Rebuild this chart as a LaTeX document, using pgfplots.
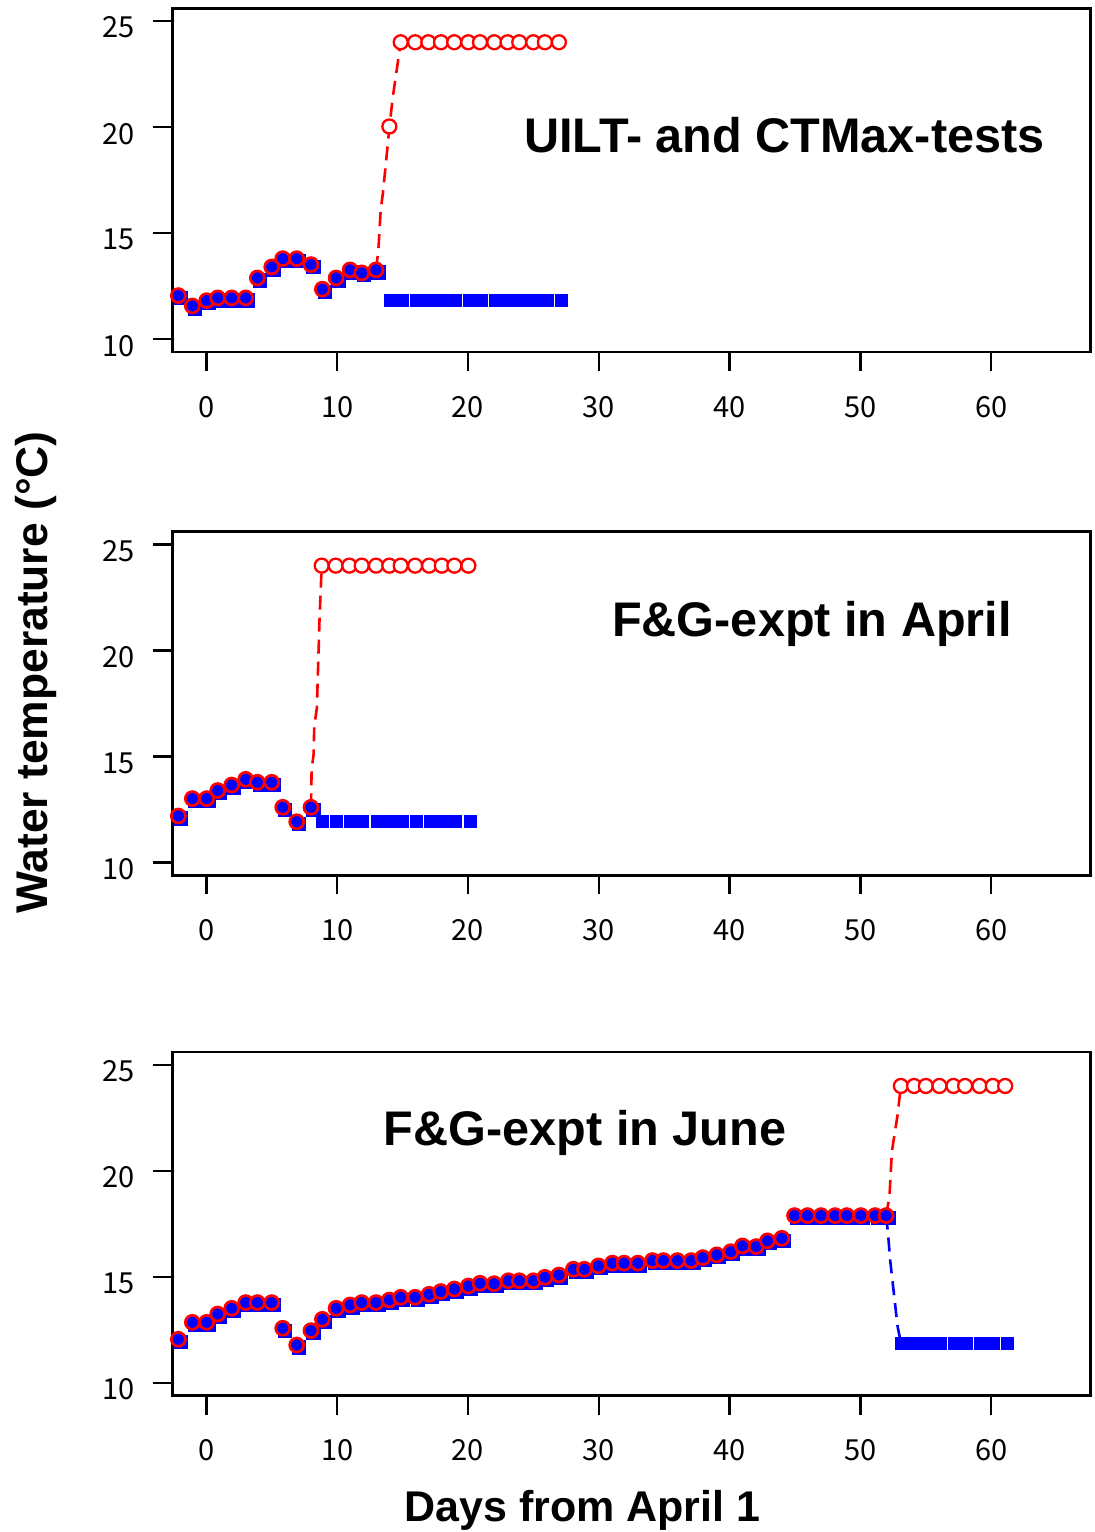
\documentclass[border=0pt]{standalone}
\usepackage{fontspec}
\setmainfont{Liberation Sans}
\newfontfamily\tickfont{Noto Sans CJK JP}
\usepackage{pgfplots}
\pgfplotsset{compat=1.18}
\definecolor{pblue}{RGB}{0,0,255}
\definecolor{pred}{RGB}{255,0,0}
\pgfplotsset{
 panel/.style={
  scale only axis, width=459.2pt, height=171.85pt,
  xmin=-2.6, xmax=67.6, ymin=9.4, ymax=25.6,
  xtick={0,10,...,60}, ytick={10,15,20,25},
  axis line style={line width=1.3pt},
  tick style={black, line width=1.2pt},
  tick align=outside, major tick length=9.5pt,
  xtick pos=bottom, ytick pos=left,
  /pgf/number format/assume math mode=true,
  ticklabel style={font=\tickfont\fontsize{14.5}{14.5}\selectfont},
  xticklabel style={yshift=-9pt},
  yticklabel style={xshift=-6pt, yshift=-3.3pt},
  clip=true,
 },
 pre/.style={only marks, mark=*, mark size=3.5pt, mark options={draw=pred, fill=pblue, line width=1.35pt}},
 preblue/.style={only marks, mark=square*, mark size=3.3pt, mark options={draw=pblue, fill=pblue, xshift=1.2pt, yshift=-1.2pt}},
 flatblue/.style={only marks, mark=square*, mark size=3.0pt, mark options={draw=pblue, fill=pblue}},
 hot/.style={only marks, mark=*, mark size=3.5pt, mark options={draw=pred, fill=white, line width=1.15pt}},
 dashr/.style={pred, line width=1.3pt, dash pattern=on 7pt off 4pt, no marks},
 dashb/.style={pblue, line width=1.3pt, dash pattern=on 7pt off 4pt, no marks},
}
\begin{document}
\begin{tikzpicture}
\useasboundingbox (0,0) rectangle (547pt,-766pt);
% ---------------- Panel 1 ----------------
\begin{axis}[panel, at={(86.15pt,-4.15pt)}, anchor=north west]
\addplot[dashr] coordinates {(12.97,13.27) (13.15,14.2) (13.33,16.1) (13.5,16.9) (14.0,20.0) (14.25,21.4) (14.86,24.0)};
\addplot[preblue] coordinates {(-2.14,12.06) (-1.07,11.57) (0.03,11.82) (0.87,11.95) (1.94,11.95) (3.01,11.95) (3.90,12.89) (5.0,13.41) (5.84,13.80) (6.91,13.80) (8.0,13.52) (8.87,12.36) (9.92,12.89) (10.99,13.27) (11.88,13.13) (12.97,13.27)};
\addplot[pre] coordinates {(-2.14,12.06) (-1.07,11.57) (0.03,11.82) (0.87,11.95) (1.94,11.95) (3.01,11.95) (3.90,12.89) (5.0,13.41) (5.84,13.80) (6.91,13.80) (8.0,13.52) (8.87,12.36) (9.92,12.89) (10.99,13.27) (11.88,13.13) (12.97,13.27)};
\addplot[flatblue] coordinates {(14.05,11.85) (15.0,11.85) (16.05,11.85) (17.05,11.85) (18.05,11.85) (19.05,11.85) (20.1,11.85) (21.05,11.85) (22.1,11.85) (23.1,11.85) (24.05,11.85) (25.1,11.85) (26.05,11.85) (27.15,11.85)};
\addplot[hot] coordinates {(13.99,20.03) (14.86,24.0) (15.96,24.0) (16.97,24.0) (17.94,24.0) (18.95,24.0) (20.02,24.0) (20.92,24.0) (22.01,24.0) (23.03,24.0) (23.92,24.0) (24.99,24.0) (25.88,24.0) (26.95,24.0)};
\end{axis}
% ---------------- Panel 2 ----------------
\begin{axis}[panel, at={(86.15pt,-265.85pt)}, anchor=north west]
\addplot[dashr] coordinates {(8.0,12.61) (8.05,14.4) (8.2,15.1) (8.25,16.4) (8.45,17.3) (8.65,21.4) (8.82,24.0)};
\addplot[preblue] coordinates {(-2.85,12.72) (-2.14,12.20) (-1.07,13.02) (0.03,13.02) (0.87,13.40) (1.94,13.66) (3.01,13.93) (3.90,13.79) (5.0,13.79) (5.84,12.61) (6.91,11.93) (8.0,12.61)};
\addplot[pre] coordinates {(-2.85,12.72) (-2.14,12.20) (-1.07,13.02) (0.03,13.02) (0.87,13.40) (1.94,13.66) (3.01,13.93) (3.90,13.79) (5.0,13.79) (5.84,12.61) (6.91,11.93) (8.0,12.61)};
\addplot[flatblue] coordinates {(8.9,11.95) (9.95,11.95) (11.0,11.95) (11.95,11.95) (13.05,11.95) (14.05,11.95) (14.95,11.95) (16.05,11.95) (17.1,11.95) (18.05,11.95) (19.05,11.95) (20.2,11.95)};
\addplot[hot] coordinates {(8.82,24.0) (9.89,24.0) (10.93,24.0) (11.88,24.0) (12.97,24.0) (13.99,24.0) (14.86,24.0) (15.96,24.0) (17.03,24.0) (18.0,24.0) (18.96,24.0) (20.03,24.0)};
\end{axis}
% ---------------- Panel 3 ----------------
\begin{axis}[panel, at={(86.15pt,-526pt)}, anchor=north west]
\addplot[dashr] coordinates {(51.96,17.89) (52.22,18.8) (52.4,20.9) (52.83,22.6) (53.09,24.0)};
\addplot[dashb] coordinates {(51.96,17.89) (52.1,17.1) (52.27,15.8) (52.83,12.7) (53.1,11.85)};
\addplot[preblue] coordinates {(-2.85,12.58) (-2.14,12.06) (-1.07,12.86) (0.03,12.86) (0.87,13.25) (1.94,13.52) (3.01,13.79) (3.90,13.79) (5.0,13.79) (5.84,12.58) (6.91,11.79) (8.0,12.47) (8.87,13.0) (9.92,13.52) (10.99,13.68) (11.88,13.79) (12.97,13.79) (13.99,13.91) (14.86,14.04) (15.96,14.04) (17.03,14.18) (17.92,14.31) (18.96,14.43) (20.03,14.57) (20.92,14.7) (22.0,14.68) (23.09,14.82) (23.93,14.82) (25.0,14.82) (25.88,14.98) (26.95,15.09) (28.06,15.36) (28.9,15.36) (29.97,15.52) (31.04,15.65) (31.93,15.65) (32.98,15.65) (34.1,15.77) (34.94,15.77) (36.01,15.77) (37.06,15.77) (37.95,15.91) (39.02,16.04) (40.09,16.19) (40.98,16.46) (42.03,16.43) (42.89,16.7) (43.99,16.82) (44.96,17.89) (45.95,17.89) (46.99,17.89) (48.06,17.89) (48.96,17.89) (50.03,17.89) (51.12,17.89) (51.96,17.89)};
\addplot[pre] coordinates {(-2.85,12.58) (-2.14,12.06) (-1.07,12.86) (0.03,12.86) (0.87,13.25) (1.94,13.52) (3.01,13.79) (3.90,13.79) (5.0,13.79) (5.84,12.58) (6.91,11.79) (8.0,12.47) (8.87,13.0) (9.92,13.52) (10.99,13.68) (11.88,13.79) (12.97,13.79) (13.99,13.91) (14.86,14.04) (15.96,14.04) (17.03,14.18) (17.92,14.31) (18.96,14.43) (20.03,14.57) (20.92,14.7) (22.0,14.68) (23.09,14.82) (23.93,14.82) (25.0,14.82) (25.88,14.98) (26.95,15.09) (28.06,15.36) (28.9,15.36) (29.97,15.52) (31.04,15.65) (31.93,15.65) (32.98,15.65) (34.1,15.77) (34.94,15.77) (36.01,15.77) (37.06,15.77) (37.95,15.91) (39.02,16.04) (40.09,16.19) (40.98,16.46) (42.03,16.43) (42.89,16.7) (43.99,16.82) (44.96,17.89) (45.95,17.89) (46.99,17.89) (48.06,17.89) (48.96,17.89) (50.03,17.89) (51.12,17.89) (51.96,17.89)};
\addplot[flatblue] coordinates {(53.15,11.85) (54.15,11.85) (55.1,11.85) (56.1,11.85) (57.15,11.85) (58.1,11.85) (59.15,11.85) (60.2,11.85) (61.2,11.85)};
\addplot[hot] coordinates {(53.09,24.0) (54.1,24.0) (55.0,24.0) (56.04,24.0) (57.11,24.0) (58.0,24.0) (59.1,24.0) (60.12,24.0) (61.06,24.0)};
\end{axis}
% ---------------- Texts ----------------
\node[anchor=base, font=\bfseries\fontsize{24.3}{24.3}\selectfont] at (392.25pt,-76pt) {UILT- and CTMax-tests};
\node[anchor=base, font=\bfseries\fontsize{24.3}{24.3}\selectfont] at (406pt,-318pt) {F\&G-expt in April};
\node[anchor=base, font=\bfseries\fontsize{24.3}{24.3}\selectfont] at (292.5pt,-572.5pt) {F\&G-expt in June};
\node[anchor=base, font=\bfseries\fontsize{21.5}{21.5}\selectfont] at (291.25pt,-760.5pt) {Days from April 1};
\node[anchor=base, rotate=90, font=\bfseries\fontsize{22.2}{22.2}\selectfont] at (23.5pt,-336.25pt) {Water temperature (°C)};
\end{tikzpicture}
\end{document}
